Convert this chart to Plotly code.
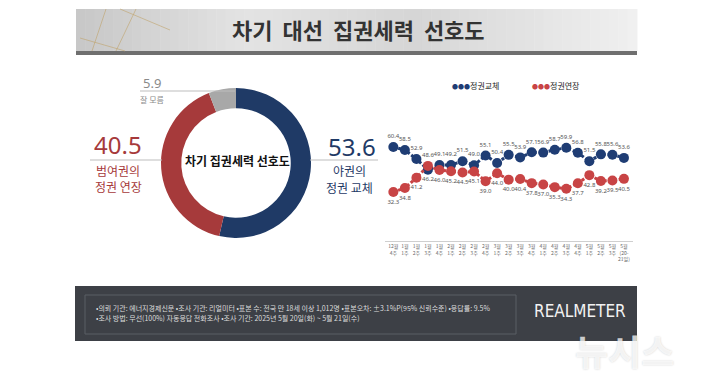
import plotly.graph_objects as go

# ---- data ----
weeks = ["12월<br>4주", "1월<br>1주", "1월<br>2주", "1월<br>3주", "1월<br>4주", "2월<br>1주", "2월<br>2주",
         "2월<br>3주", "2월<br>4주", "3월<br>1주", "3월<br>2주", "3월<br>3주", "3월<br>4주", "4월<br>1주",
         "4월<br>2주", "4월<br>3주", "4월<br>4주", "5월<br>1주", "5월<br>2주", "5월<br>3주", "5월<br>(20-<br>21일)"]
change = [60.4, 58.5, 52.9, 46.2, 49.1, 49.2, 51.5, 49.0, 55.1, 50.4, 55.5, 53.9, 57.1, 56.9, 58.7, 59.9,
          56.8, 51.5, 55.8, 55.6, 53.6]
extend = [32.3, 34.8, 41.2, 48.6, 46.0, 45.2, 44.5, 45.1, 39.0, 44.0, 40.0, 40.4, 37.8, 37.0, 35.3, 34.3,
          37.7, 42.8, 39.2, 39.5, 40.5]
donut_labels = ["야권의 정권 교체", "범여권의 정권 연장", "잘 모름"]
donut_values = [53.6, 40.5, 5.9]

NAVY = "#1f3a66"
DRED = "#a63a3b"
BLUE_L = "#1f3d74"
RED_L = "#c84445"
GRAY = "#a8a8a8"
KFONT = "Noto Sans CJK KR"

x = list(range(len(weeks)))
fig = go.Figure()

# donut
fig.add_trace(go.Pie(values=donut_values, labels=donut_labels, hole=0.73, sort=False,
                     direction="clockwise", rotation=0, textinfo="none", hoverinfo="none",
                     marker=dict(colors=[NAVY, DRED, GRAY], line=dict(width=0)),
                     domain=dict(x=[161/720, 311/720], y=[(381-238)/381, (381-88)/381]),
                     showlegend=False))

blue_pos = ["top center" if c >= e else "bottom center" for c, e in zip(change, extend)]
red_pos = ["bottom center" if c >= e else "top center" for c, e in zip(change, extend)]

fig.add_trace(go.Scatter(x=x, y=change, mode="lines+markers+text", text=[f"{v:.1f}" for v in change],
                         textposition=blue_pos, textfont=dict(size=6, color="#555", family="Noto Sans"),
                         line=dict(color=BLUE_L, width=3, dash="3px,2px"),
                         marker=dict(size=10, color=BLUE_L), showlegend=False, hoverinfo="none",
                         cliponaxis=False))
fig.add_trace(go.Scatter(x=x, y=extend, mode="lines+markers+text", text=[f"{v:.1f}" for v in extend],
                         textposition=red_pos, textfont=dict(size=6, color="#555", family="Noto Sans"),
                         line=dict(color=RED_L, width=3, dash="3px,2px"),
                         marker=dict(size=10, color=RED_L), showlegend=False, hoverinfo="none",
                         cliponaxis=False))

shapes = []
# title banner gradient (strips)
n = 60
x0, x1 = 76, 637
def mix(a, b, t):
    return tuple(int(a[i] + (b[i] - a[i]) * t) for i in range(3))
for i in range(n):
    t = i / (n - 1)
    if t < 0.3:
        c = mix((200, 200, 200), (228, 228, 228), t / 0.3)
    elif t < 0.6:
        c = mix((228, 228, 228), (214, 214, 214), (t - 0.3) / 0.3)
    else:
        c = mix((214, 214, 214), (240, 240, 240), (t - 0.6) / 0.4)
    xa = x0 + (x1 - x0) * i / n
    xb = x0 + (x1 - x0) * (i + 1) / n + 0.5
    shapes.append(dict(type="rect", xref="paper", yref="paper", x0=xa/720, x1=xb/720,
                       y0=(381-51)/381, y1=(381-9)/381, fillcolor=f"rgb{c}", line=dict(width=0),
                       layer="below"))
shapes.append(dict(type="rect", xref="paper", yref="paper", x0=x0/720, x1=x1/720,
                   y0=(381-55)/381, y1=(381-51)/381, fillcolor="#6f6f6f", line=dict(width=0), layer="below"))
for (a, b, c, d) in [(106, 9, 92, 51), (136, 9, 116, 51), (80, 38, 125, 51), (120, 9, 170, 30)]:
    shapes.append(dict(type="line", xref="paper", yref="paper", x0=a/720, y0=(381-b)/381,
                       x1=c/720, y1=(381-d)/381, line=dict(color="rgba(190,160,100,0.7)", width=0.8)))
# footer
shapes.append(dict(type="rect", xref="paper", yref="paper", x0=75/720, x1=637/720,
                   y0=(381-341)/381, y1=(381-286)/381, fillcolor="#3d4046", line=dict(width=0), layer="below"))
shapes.append(dict(type="rect", xref="paper", yref="paper", x0=85/720, x1=516/720,
                   y0=(381-334)/381, y1=(381-295)/381, fillcolor="rgba(0,0,0,0)",
                   line=dict(color="#5b5e64", width=1), layer="below"))
# leader lines
for (a, b, yy) in [(90, 162, 160), (310, 378, 160), (140, 235, 91)]:
    shapes.append(dict(type="line", xref="paper", yref="paper", x0=a/720, x1=b/720,
                       y0=(381-yy)/381, y1=(381-yy)/381, line=dict(color="#bdbdbd", width=1)))

def ann(text, px, py, size, color, bold=False, family=KFONT, **kw):
    d = dict(text=f"<b>{text}</b>" if bold else text, x=px/720, y=(381-py)/381, xref="paper", yref="paper",
             showarrow=False, font=dict(size=size, color=color, family=family),
             xanchor=kw.pop("xanchor", "center"), yanchor=kw.pop("yanchor", "middle"))
    d.update(kw)
    return d

annotations = [
    ann("차기  대선  집권세력  선호도", 358, 29, 22, "#333333", bold=True),
    ann("차기 집권세력 선호도", 237, 160, 12, "#111111", bold=True),
    ann(f"{donut_values[1]}", 118, 145, 24, DRED, family="Noto Sans"),
    ann("범여권의", 118, 170, 12, DRED),
    ann("정권 연장", 118, 186, 12, DRED),
    ann(f"{donut_values[0]}", 352, 146, 24, NAVY, family="Noto Sans"),
    ann("야권의", 349, 170, 12, NAVY),
    ann("정권 교체", 349, 187, 12, NAVY),
    ann(f"{donut_values[2]}", 152, 83, 13, "#8a8a8a", family="Noto Sans"),
    ann("잘 모름", 152, 99, 8, "#8a8a8a"),
    ann(f"<span style='color:{BLUE_L};font-size:6px'>●●●</span>정권교체", 450, 85, 8, "#222", xanchor="left"),
    ann(f"<span style='color:{RED_L};font-size:6px'>●●●</span>정권연장", 530, 85, 8, "#222", xanchor="left"),
    ann("•의뢰 기관: 에너지경제신문 •조사 기관: 리얼미터 •표본 수: 전국 만 18세 이상 1,012명 •표본오차: ±3.1%P(95% 신뢰수준) •응답률: 9.5%",
        94, 308, 7, "#dcdcdc", xanchor="left"),
    ann("•조사 방법: 무선(100%) 자동응답 전화조사 •조사 기간: 2025년 5월 20일(화) ~ 5월 21일(수)",
        94, 318, 7, "#dcdcdc", xanchor="left"),
    ann("REALMETER", 580, 311, 17, "#f2f2f2", family="'DejaVu Sans Condensed', 'Liberation Sans Narrow', Roboto, sans-serif"),
    ann("<b>뉴시스</b>", 624, 322, 36, "rgba(255,255,255,0.75)", yanchor="top"),
]
annotations[-1]["font"]["shadow"] = "0px 0px 2px rgba(0,0,0,0.25)"

fig.update_layout(
    width=720, height=381, margin=dict(l=0, r=0, t=0, b=0),
    paper_bgcolor="white", plot_bgcolor="rgba(0,0,0,0)",
    shapes=shapes, annotations=annotations,
    xaxis=dict(domain=[384.7/720, 632.6/720], range=[-0.75, 20.75], tickmode="array", tickvals=x,
               ticktext=weeks, tickangle=0, tickfont=dict(size=5, color="#666", family=KFONT),
               showgrid=False, zeroline=False, showline=True, linecolor="#cfcfcf", linewidth=1,
               ticks="", fixedrange=True),
    yaxis=dict(domain=[(381-241)/381, (381-115)/381], range=[1.65, 80.4], visible=False,
               showgrid=False, zeroline=False, fixedrange=True),
    font=dict(family=KFONT),
)

fig.write_html("out.html", config={"displayModeBar": False},
               post_script="document.body.style.margin='0';document.body.style.overflow='hidden';")
